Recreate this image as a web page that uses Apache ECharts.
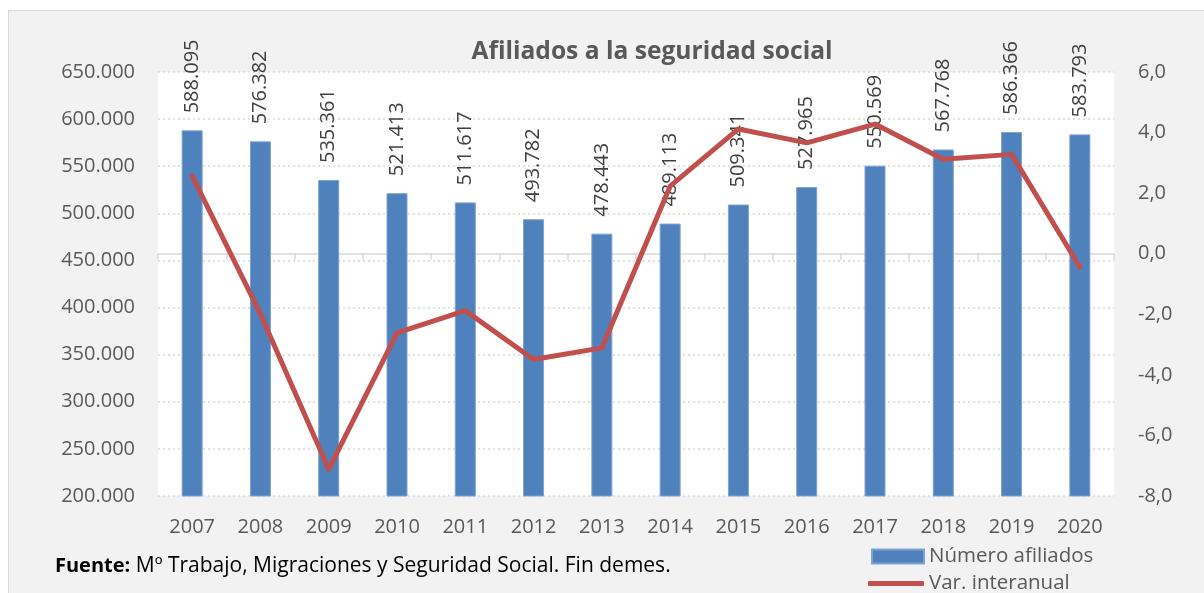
<!DOCTYPE html>
<html>
<head>
<meta charset="utf-8">
<script src="https://cdn.jsdelivr.net/npm/echarts@6/dist/echarts.min.js"></script>
<style>
  html, body { margin: 0; padding: 0; background: #ffffff; }
  #frame { position: absolute; left: 8px; top: 10px; width: 1300px; height: 700px; background: #f2f2f2; border: 1px solid #d9d9d9; }
  #chart { position: absolute; left: 0; top: 0; width: 1204px; height: 593px; }
</style>
</head>
<body>
<div id="frame"></div>
<div id="chart"></div>
<script>
const years = ['2007','2008','2009','2010','2011','2012','2013','2014','2015','2016','2017','2018','2019','2020'];
const afiliados = [588095, 576382, 535361, 521413, 511617, 493782, 478443, 489113, 509341, 527965, 550569, 567768, 586366, 583793];
const variacion = [2.57, -1.99, -7.12, -2.61, -1.88, -3.49, -3.11, 2.23, 4.12, 3.66, 4.28, 3.12, 3.28, -0.44];
const leftTicks = { min: 200000, max: 650000, interval: 50000 };
const rightTicks = { min: -8, max: 6, interval: 2 };
const titleText = 'Afiliados a la seguridad social';
const sourceBold = 'Fuente:';
const sourceText = ' Mº Trabajo, Migraciones y Seguridad Social. Fin demes.';
const seriesNames = ['Número afiliados', 'Var. interanual'];

const FONT = '"Open Sans"';
const fmtThousands = v => (v / 1000).toFixed(3);
const fmtComma = v => v.toFixed(1).replace('.', ',');

const chart = echarts.init(document.getElementById('chart'), null, { renderer: 'canvas' });
chart.setOption({
  backgroundColor: 'transparent',
  animation: false,
  title: {
    text: titleText,
    left: 647,
    top: 34,
    textAlign: 'center',
    textStyle: { fontFamily: FONT, fontSize: 24.6, fontWeight: 'bold', color: '#595959' }
  },
  legend: [
    {
      left: 866,
      top: 541,
      itemWidth: 52,
      itemHeight: 14,
      textStyle: { fontFamily: FONT, fontSize: 20.5, color: '#595959' },
      data: [{ name: seriesNames[0], icon: 'rect' }]
    },
    {
      left: 863,
      top: 568,
      itemWidth: 56,
      itemHeight: 5,
      textStyle: { fontFamily: FONT, fontSize: 20.5, color: '#595959' },
      data: [{ name: seriesNames[1], icon: 'roundRect' }]
    }
  ],
  grid: {
    left: 158, right: 90, top: 72, bottom: 97,
    show: true, backgroundColor: '#ffffff', borderWidth: 0
  },
  xAxis: {
    type: 'category',
    data: years,
    axisLine: { show: true, lineStyle: { color: '#d9d9d9', width: 1.5 } },
    axisTick: { show: true, length: 6, lineStyle: { color: '#d9d9d9', width: 1.5 } },
    axisLabel: { fontFamily: FONT, fontSize: 20, color: '#595959', margin: 21 }
  },
  yAxis: [
    {
      type: 'value',
      min: leftTicks.min, max: leftTicks.max, interval: leftTicks.interval,
      axisLine: { show: false }, axisTick: { show: false },
      axisLabel: { fontFamily: FONT, fontSize: 20, color: '#595959', margin: 23, formatter: fmtThousands },
      splitLine: { show: true, lineStyle: { color: '#d9d9d9', type: [2, 3], width: 1.5 } }
    },
    {
      type: 'value',
      min: rightTicks.min, max: rightTicks.max, interval: rightTicks.interval,
      axisLine: { show: false }, axisTick: { show: false },
      axisLabel: { fontFamily: FONT, fontSize: 20, color: '#595959', margin: 24, formatter: fmtComma },
      splitLine: { show: false }
    }
  ],
  series: [
    {
      name: seriesNames[0],
      type: 'bar',
      data: afiliados,
      barWidth: 21,
      itemStyle: { color: '#4f81bd', borderColor: '#7fa3d1', borderWidth: 1 },
      label: {
        show: true,
        position: 'top',
        distance: 17,
        rotate: 90,
        align: 'left',
        verticalAlign: 'middle',
        fontFamily: FONT,
        fontSize: 20,
        color: '#404040',
        formatter: p => fmtThousands(p.value)
      },
      z: 2
    },
    {
      name: seriesNames[1],
      type: 'line',
      yAxisIndex: 1,
      data: variacion,
      symbol: 'none',
      lineStyle: { color: '#c0504d', width: 5, cap: 'round', join: 'round' },
      itemStyle: { color: '#c0504d' },
      z: 5
    }
  ],
  graphic: [
    {
      type: 'text',
      left: 55,
      top: 556,
      style: {
        text: '{b|' + sourceBold + '}' + sourceText,
        fontFamily: FONT,
        fontSize: 21,
        fill: '#000000',
        rich: { b: { fontFamily: FONT, fontSize: 20, fontWeight: 'bold', fill: '#000000' } }
      }
    }
  ]
});
</script>
</body>
</html>
